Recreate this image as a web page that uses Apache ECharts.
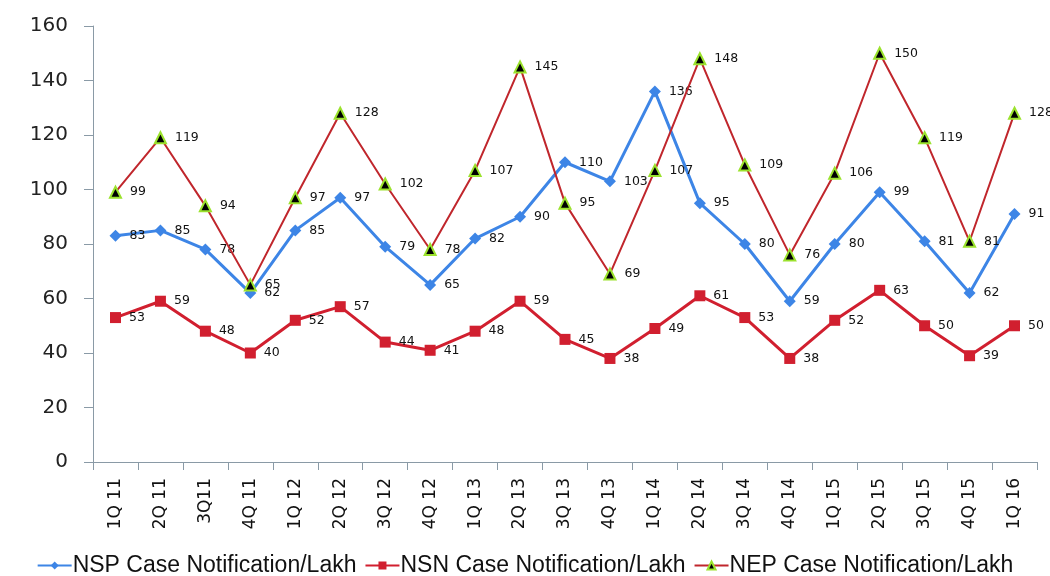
<!DOCTYPE html>
<html>
<head>
<meta charset="utf-8">
<script src="https://cdn.jsdelivr.net/npm/echarts@6/dist/echarts.min.js"></script>
<style>
  html, body { margin: 0; padding: 0; background: #fff; }
  #chart { width: 1050px; height: 576px; }
</style>
</head>
<body>
<div id="chart"></div>
<script>
// Quarterly case notification rates per lakh population
const quarters = ['1Q 11', '2Q 11', '3Q11', '4Q 11', '1Q 12', '2Q 12', '3Q 12', '4Q 12',
  '1Q 13', '2Q 13', '3Q 13', '4Q 13', '1Q 14', '2Q 14', '3Q 14', '4Q 14',
  '1Q 15', '2Q 15', '3Q 15', '4Q 15', '1Q 16'];
const nspValues = [83, 85, 78, 62, 85, 97, 79, 65, 82, 90, 110, 103, 136, 95, 80, 59, 80, 99, 81, 62, 91];
const nsnValues = [53, 59, 48, 40, 52, 57, 44, 41, 48, 59, 45, 38, 49, 61, 53, 38, 52, 63, 50, 39, 50];
const nepValues = [99, 119, 94, 65, 97, 128, 102, 78, 107, 145, 95, 69, 107, 148, 109, 76, 106, 150, 119, 81, 128];
const seriesNames = ['NSP Case Notification/Lakh', 'NSN Case Notification/Lakh', 'NEP Case Notification/Lakh'];

const chart = echarts.init(document.getElementById('chart'));

const valueLabel = {
  show: true,
  position: 'right',
  distance: 8,
  fontFamily: 'DejaVu Sans',
  fontSize: 12.5,
  color: '#111'
};

chart.setOption({
  animation: false,
  grid: { left: 93, right: 13, top: 26, bottom: 114 },
  legend: {
    top: 549,
    left: 'center',
    itemGap: 8,
    itemWidth: 34,
    itemHeight: 10,
    textStyle: { fontFamily: 'Liberation Sans', fontSize: 23, color: '#111', padding: [0, 0, 0, -4] },
    data: seriesNames
  },
  xAxis: {
    type: 'category',
    data: quarters,
    boundaryGap: true,
    axisLine: { lineStyle: { color: '#8a9aa6', width: 1 } },
    axisTick: { show: true, alignWithLabel: false, length: 8, lineStyle: { color: '#8a9aa6' } },
    axisLabel: {
      rotate: 90,
      margin: 16,
      fontFamily: 'DejaVu Sans',
      fontSize: 17,
      color: '#111',
      interval: 0
    },
    splitLine: { show: false }
  },
  yAxis: {
    type: 'value',
    min: 0,
    max: 160,
    interval: 20,
    axisLine: { show: true, lineStyle: { color: '#8a9aa6', width: 1 } },
    axisTick: { show: true, length: 9, lineStyle: { color: '#8a9aa6' } },
    axisLabel: { margin: 25, fontFamily: 'DejaVu Sans', fontSize: 20, color: '#222' },
    splitLine: { show: false }
  },
  series: [
    {
      name: seriesNames[0],
      type: 'line',
      data: nspValues,
      symbol: 'diamond',
      symbolSize: 12,
      lineStyle: { color: '#3d85e6', width: 3 },
      itemStyle: { color: '#3d85e6' },
      label: valueLabel,
      z: 3
    },
    {
      name: seriesNames[1],
      type: 'line',
      data: nsnValues,
      symbol: 'rect',
      symbolSize: 11,
      lineStyle: { color: '#d11f2f', width: 3 },
      itemStyle: { color: '#d11f2f' },
      label: valueLabel,
      z: 3
    },
    {
      name: seriesNames[2],
      type: 'line',
      data: nepValues,
      symbol: 'triangle',
      symbolSize: 11,
      lineStyle: { color: '#c0262c', width: 2 },
      itemStyle: { color: '#000', borderColor: '#9be22d', borderWidth: 2 },
      label: valueLabel,
      z: 4
    }
  ]
});
</script>
</body>
</html>
